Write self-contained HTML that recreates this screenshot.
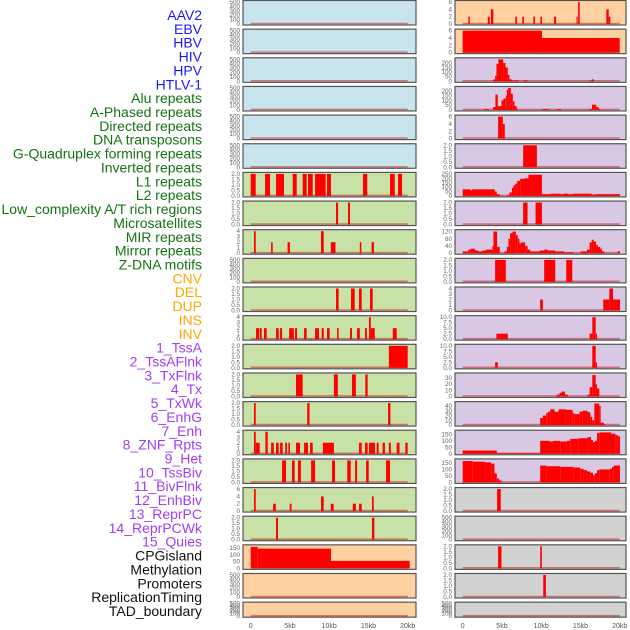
<!DOCTYPE html>
<html><head><meta charset="utf-8">
<style>
html,body{margin:0;padding:0;background:#fff;}
svg{display:block;font-family:"Liberation Sans",sans-serif;}
</style></head>
<body>
<svg id="chart" width="630" height="630" viewBox="0 0 630 630" xmlns="http://www.w3.org/2000/svg"></svg>
<script>
// ---- track labels ----
const labels = ["AAV2","EBV","HBV","HIV","HPV","HTLV-1","Alu repeats","A-Phased repeats","Directed repeats","DNA transposons","G-Quadruplex forming repeats","Inverted repeats","L1 repeats","L2 repeats","Low_complexity A/T rich regions","Microsatellites","MIR repeats","Mirror repeats","Z-DNA motifs","CNV","DEL","DUP","INS","INV","1_TssA","2_TssAFlnk","3_TxFlnk","4_Tx","5_TxWk","6_EnhG","7_Enh","8_ZNF_Rpts","9_Het","10_TssBiv","11_BivFlnk","12_EnhBiv","13_ReprPC","14_ReprPCWk","15_Quies","CPGisland","Methylation","Promoters","ReplicationTiming","TAD_boundary"];
const labelGroups = [6,13,5,15,5];
const groupColors = ["#1a1aff","#137313","#ffa500","#a23df5","#111111"];
const xTicks = [0,5,10,15,20];
const xTickLabels = ["0","5kb","10kb","15kb","20kb"];

// ---- y tick sets ----
const T_E = [0,100,200,300,400,500];
const T2 = ["0.0","0.5","1.0","1.5","2.0"];
const T4 = [0,1,2,3,4];
const T6 = [0,2,4,6];

// ---- left column data [startKb, endKb, value] ----
const L6=[[0,0.64,2],[1.83,2.46,2],[3.23,4.24,2],[5.35,5.86,2],[6.62,7.13,2],[7.3,7.9,2],[8.2,9.55,2],[9.72,10.23,2],[14.3,14.85,2],[17.75,18.35,2],[18.77,19.28,2]];
const L7=[[10.87,11.13,2],[12.4,12.65,2]];
const L8=[[0.42,0.64,4],[2.6,2.8,2],[4.7,5.0,2],[8.96,9.3,4],[10.2,10.8,2],[13.9,14.1,2],[15.4,15.7,2]];
const L10=[[10.87,11.2,2],[12.78,13.25,2],[13.8,14.14,2],[15.2,15.54,2]];
const L11=[[0.68,1.06,2],[1.15,1.4,2],[1.7,2.04,2],[3.23,3.57,2],[3.74,4.0,2],[4.9,5.5,2],[5.65,5.9,2],[6.8,7.13,2],[8.2,8.7,2],[9.04,9.3,2],[9.72,10.06,2],[11.0,11.2,2],[12.65,12.9,2],[13.55,13.9,2],[14.56,14.8,2],[15.07,15.3,4],[15.3,15.8,2],[18.1,18.6,2]];
const L12=[[17.6,20,2]];
const L13=[[5.77,6.62,2],[10.6,11.1,2],[12.9,13.4,2],[14.6,14.9,2]];
const L14=[[0.42,0.64,2],[7.2,7.5,2],[17.5,17.8,2]];
const L15=[[0.42,0.64,4],[0.64,1.15,2],[1.87,2.17,4],[2.6,2.94,2],[3.23,3.57,2],[3.74,4.07,2],[4.4,4.63,2],[4.8,5.0,2],[5.77,6.28,2],[6.8,7.3,2],[7.56,7.9,2],[9.2,10.6,2],[13.8,14.14,2],[14.56,14.9,2],[15.07,15.4,2],[15.4,15.84,2],[16.05,16.3,2],[16.8,17.1,2],[17.6,17.85,2],[18.6,18.96,2],[19.7,20,2]];
const L16=[[4.0,4.5,2],[5.26,5.6,2],[6.03,6.4,2],[7.7,8.2,2],[10.36,10.74,2],[12.3,12.74,2],[13.3,13.55,2],[14.7,15.03,2],[17.24,17.75,2]];
const L17=[[0.42,0.64,6],[2.85,3.2,2],[4.97,5.2,2],[8.96,9.3,4],[10.2,10.57,2],[13.0,13.4,2],[13.8,14.14,2],[15.45,15.67,4]];
const L18=[[3.23,3.48,2],[15.45,15.75,2]];
const L19=[[0,0.9,158],[0.9,10.23,145],[10.23,20.25,55]];

// ---- right column data ----
const R0=[[0.72,0.9,2],[3.2,3.45,2],[3.6,3.9,4],[6.7,6.9,2],[7.6,7.8,2],[9.0,9.2,2],[9.9,10.1,2],[11.65,11.9,2],[14.5,14.65,2],[14.7,14.9,6],[18.3,18.6,4],[18.6,18.8,2]];
const R1=[[0,10.1,6],[10.1,20,4]];
const R2=[[3.87,4.13,20],[4.13,4.3,60],[4.3,4.55,190],[4.55,5.15,240],[5.15,5.45,200],[5.45,5.74,150],[5.74,5.96,70],[5.96,6.3,20],[6.3,7.15,10],[7.7,8.26,10],[16.17,16.47,10],[16.47,16.72,20]];
const R3=[[2.72,3.32,10],[3.87,4.17,30],[4.17,4.47,160],[4.47,4.94,40],[4.94,5.19,100],[5.19,5.49,120],[5.49,5.62,150],[5.62,5.79,210],[5.79,6.13,230],[6.13,6.38,170],[6.38,6.6,90],[6.6,6.89,40],[6.89,7.02,10],[10.13,10.94,10],[11.96,12.51,10],[16.17,16.47,10],[16.47,17.02,55],[17.02,17.32,30],[17.32,17.53,10]];
const R4=[[4.51,5.11,6],[5.11,5.36,4]];
const R5=[[7.7,9.45,2]];
const R6=[[0,0.94,75],[0.94,1.19,65],[1.19,4.09,75],[4.09,4.34,50],[4.34,4.72,20],[5.7,5.96,10],[5.96,6.26,40],[6.26,6.47,90],[6.47,6.68,120],[6.68,6.94,140],[6.94,7.32,170],[7.32,7.87,195],[7.87,8.38,200],[8.38,10.09,240],[10.09,11.15,20],[11.15,12.51,25],[12.51,12.85,20],[12.85,13.49,25],[13.49,14.04,20],[14.04,16.43,25],[16.43,16.89,15],[16.89,20.04,20]];
const R7=[[7.7,8.26,2],[9.28,10.09,2]];
const R8=[[0,0.72,10],[0.72,1.02,20],[1.02,1.57,25],[1.57,2.0,15],[2.0,2.51,10],[2.51,2.98,15],[2.98,3.79,20],[3.79,3.91,40],[3.91,4.38,120],[4.38,4.72,35],[5.32,5.62,10],[5.62,5.83,35],[5.83,6.04,80],[6.04,6.34,110],[6.34,6.77,120],[6.77,7.02,100],[7.02,7.23,80],[7.23,7.49,55],[7.49,7.96,60],[7.96,8.26,40],[8.26,8.6,20],[8.6,9.79,10],[9.79,10.38,15],[10.38,10.81,20],[10.81,11.79,15],[11.79,12.94,10],[12.94,14.13,5],[14.98,15.83,10],[15.83,16.17,20],[16.17,16.43,60],[16.43,16.68,75],[16.68,16.98,65],[16.98,17.23,45],[17.23,17.53,35],[17.53,17.74,25],[17.74,18.04,10],[19.74,20.04,10]];
const R9=[[4.13,5.49,2],[10.38,11.79,2],[13.19,13.96,2]];
const R10=[[9.87,10.21,2],[17.91,18.68,2],[18.68,19.15,4],[19.15,20.04,2]];
const R11=[[4.3,5.74,2.5],[16.17,16.51,2.5],[16.51,16.94,10],[16.94,17.11,2.5]];
const R12=[[4.13,4.47,2.5],[16.51,16.94,10],[16.94,17.11,2.5]];
const R13=[[11.96,12.34,3],[12.34,12.6,6],[12.6,13.02,8],[13.02,13.4,3],[15.91,16.17,3],[16.17,16.51,15],[16.51,16.94,35],[16.94,17.11,20],[17.11,17.4,13]];
const R14=[[9.87,10.21,15],[10.21,10.64,20],[10.64,10.85,25],[10.85,11.15,28],[11.15,11.7,33],[11.7,12.21,28],[12.21,13.15,33],[13.15,14.0,32],[14.0,14.21,25],[14.21,14.89,23],[14.89,15.23,28],[15.23,15.91,30],[15.91,16.26,27],[16.26,16.51,17],[16.51,16.77,10],[16.77,17.4,45],[17.4,17.57,40],[17.57,18.0,5],[18.0,18.17,2]];
const R15=[[0,4.34,25],[4.34,9.87,5],[9.87,11.06,100],[11.06,11.57,95],[11.57,12.43,100],[12.43,13.28,95],[13.28,13.7,100],[13.7,14.77,115],[14.77,15.83,120],[15.83,16.04,125],[16.04,16.34,130],[16.34,16.6,105],[16.6,16.85,90],[16.85,17.11,100],[17.11,17.4,160],[17.4,18.89,165],[18.89,19.45,155],[19.45,19.74,145],[19.74,20.04,135]];
const R16=[[0,1.28,165],[1.28,2.85,160],[2.85,3.62,155],[3.62,4.04,145],[4.04,4.34,70],[4.34,4.64,30],[4.64,4.98,15],[9.87,10.64,130],[10.64,12.43,125],[12.43,14.13,120],[14.13,14.98,115],[14.98,15.4,105],[15.4,15.83,95],[15.83,16.26,85],[16.26,16.6,75],[16.6,16.81,55],[16.81,17.11,70],[17.11,17.4,95],[17.4,18.68,100],[18.68,19.02,105],[19.02,19.23,120],[19.23,20.04,130]];
const R17=[[4.38,4.85,2]];
const R19=[[4.51,4.94,2],[9.87,10.08,2]];
const R20=[[10.26,10.6,2]];

const leftData=[[],[],[],[],[],[],L6,L7,L8,[],L10,L11,L12,L13,L14,L15,L16,L17,L18,L19,[],[]];
const leftTicks=[T_E,T_E,T_E,T_E,T_E,T_E,T2,T2,T4,T_E,T2,T4,T2,T2,T2,T4,T2,T6,T2,[0,50,100,150],T_E,T_E];
const leftMax=[500,500,500,500,500,500,2,2,4,500,2,4,2,2,2,4,2,6,2,162,500,500];
const rightData=[R0,R1,R2,R3,R4,R5,R6,R7,R8,R9,R10,R11,R12,R13,R14,R15,R16,R17,[],R19,R20,[]];
const rightTicks=[T6,T6,[0,50,100,150,200],[0,50,100,150,200],T6,T2,[0,50,100,150,200,250],T2,[0,40,80,120],T2,T4,["0.0","2.5","5.0","7.5","10.0"],["0.0","2.5","5.0","7.5","10.0"],[0,10,20,30],[0,10,20,30,40],[0,50,100,150],[0,50,100,150],T2,T_E,T2,T2,T_E];
const rightMax=[6,6,240,230,6,2,250,2,122,2,4,10,10,36,46,170,170,2,500,2,2,500];

const NS="http://www.w3.org/2000/svg";
const svg=document.getElementById('chart');
function mk(tag,attrs,parent){const e=document.createElementNS(NS,tag);for(const k in attrs)e.setAttribute(k,attrs[k]);(parent||svg).appendChild(e);return e;}

// labels
let gi=0,gc=0;
labels.forEach((t,i)=>{
  while(gc>=labelGroups[gi]){gi++;gc=0;}
  gc++;
  const e=mk('text',{x:202,y:20+i*13.86,'text-anchor':'end','font-size':'14',fill:groupColors[gi]});
  e.textContent=t;
  
  
});

const bgLeft=i=> i<6?'#c8e4ec':(i<19?'#c8e1a6':'#ffd1a0');
const bgRight=i=> i<2?'#ffd1a0':(i<17?'#d8c8e4':'#d2d2d2');
const pitch=28.65, ph=24.5;

function panel(col,i,data,ticks,ymax){
  const left=col===0?243:455, w=col===0?173:171;
  const top=0.5+i*pitch, h=(i===21)?15:ph;
  const g=mk('g',{});
  
  
  mk('rect',{x:left,y:top,width:w,height:h,fill:col===0?bgLeft(i):bgRight(i),stroke:'#555','stroke-width':1.2},g);
  const xs=kb=>left+7.7+kb*7.85;
  const y0=top+h-1, y1=top+1.5;
  const ys=v=>y0-(v/ymax)*(y0-y1);
  ticks.forEach((t,k)=>{
    const v=parseFloat(t);
    const yy=ys(v);
    const e=mk('text',{x:left-3,y:yy+2,'text-anchor':'end','font-size':'6.3',fill:'#666'},g);
    e.textContent=String(t);
    
    
  });
  mk('line',{x1:xs(0),x2:xs(20),y1:y0-0.5,y2:y0-0.5,stroke:'rgba(190,0,0,0.45)','stroke-width':1.6},g);
  data.forEach(d=>{
    const x0=xs(d[0]), x1=xs(d[1]);
    const r=mk('rect',{x:x0,y:ys(d[2]),width:Math.max(1,x1-x0),height:y0-ys(d[2]),fill:'#ff0000'},g);
    
    
  });
}
for(let i=0;i<22;i++){panel(0,i,leftData[i],leftTicks[i],leftMax[i]);panel(1,i,rightData[i],rightTicks[i],rightMax[i]);}

// x axes
[[243],[455]].forEach((c,ci)=>{
  xTicks.forEach((kb,k)=>{
    const e=mk('text',{x:c[0]+7.7+kb*7.85,y:628,'text-anchor':'middle','font-size':'7',fill:'#555'});
    e.textContent=xTickLabels[k];
    
    
  });
});
</script>
</body></html>
